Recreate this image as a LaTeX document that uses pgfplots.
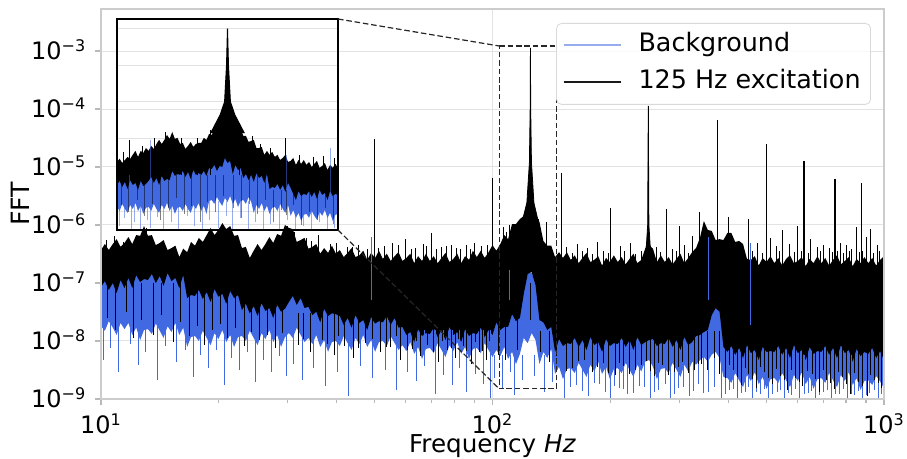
\documentclass[border=0pt]{standalone}
\usepackage{fontspec}
\setmainfont{DejaVu Sans}
\usepackage{pgfplots}
\usepackage{pgfplotstable}
\pgfplotsset{compat=1.18}
\usepgfplotslibrary{fillbetween}
\definecolor{royal}{RGB}{65,105,225}

% main spectrum: f, black top/bottom, blue top/bottom
\pgfplotstableread{
f kh kl bh bl
10.00 3.7e-7 8.5e-8 1.95e-7 1.8e-8
10.23 4.7e-7 1.08e-7 2.2e-7 1.5e-8
10.47 3.7e-7 7.6e-8 1.8e-7 2.2e-8
10.72 4.7e-7 1.0e-7 2.1e-7 1.7e-8
10.96 5.7e-7 6.7e-8 1.67e-7 1.27e-8
11.22 4.2e-7 1.13e-7 2.3e-7 2.05e-8
11.48 4.9e-7 8.2e-8 1.87e-7 1.6e-8
11.75 6.2e-7 1.22e-7 1.73e-7 2.05e-8
12.02 4.7e-7 8.2e-8 1.95e-7 1.27e-8
12.30 6.7e-7 1.37e-7 2.2e-7 1.7e-8
12.59 6.5e-7 1.04e-7 1.8e-7 1.04e-8
12.88 9.6e-7 1.17e-7 2.1e-7 1.55e-8
13.18 6.5e-7 1.13e-7 1.67e-7 1.6e-8
13.49 6.7e-7 1.43e-7 2.3e-7 1.32e-8
13.80 4.5e-7 1.0e-7 1.87e-7 2.0e-8
14.13 4.9e-7 1.32e-7 1.73e-7 1.5e-8
14.45 5.5e-7 8.9e-8 1.95e-7 1.13e-8
14.79 3.7e-7 1.49e-7 2.2e-7 1.8e-8
15.14 4.0e-7 1.08e-7 1.8e-7 1.43e-8
15.49 4.4e-7 1.22e-7 2.1e-7 2.05e-8
15.85 2.8e-7 8.2e-8 1.67e-7 1.27e-8
16.22 3.9e-7 1.37e-7 2.3e-7 1.7e-8
16.60 3.4e-7 5.5e-8 1.87e-7 7.9e-9
16.98 5.1e-7 6.2e-8 1.73e-7 1.17e-8
17.38 4.4e-7 6.0e-8 1.95e-7 1.22e-8
17.78 6.0e-7 7.6e-8 2.2e-7 1.0e-8
18.20 5.1e-7 5.3e-8 1.8e-7 1.5e-8
18.62 6.7e-7 7.0e-8 2.1e-7 1.13e-8
19.05 8.9e-7 4.7e-8 1.67e-7 8.5e-9
19.50 6.7e-7 7.9e-8 2.3e-7 1.37e-8
19.95 8.2e-7 5.8e-8 1.87e-7 1.08e-8
20.42 1.08e-6 6.5e-8 1.73e-7 1.55e-8
20.89 8.5e-7 4.4e-8 1.95e-7 9.6e-9
21.38 9.6e-7 7.3e-8 2.2e-7 1.27e-8
21.88 6.5e-7 5.5e-8 1.8e-7 7.9e-9
22.39 6.7e-7 6.2e-8 2.1e-7 1.17e-8
22.91 4.0e-7 3.4e-8 1.67e-7 1.22e-8
23.44 4.2e-7 4.4e-8 2.3e-7 1.0e-8
23.99 2.7e-7 3.0e-8 1.87e-7 1.5e-8
24.55 3.6e-7 4.0e-8 1.73e-7 1.13e-8
25.12 4.7e-7 2.7e-8 1.95e-7 8.5e-9
25.70 3.7e-7 4.5e-8 2.2e-7 1.37e-8
26.30 4.7e-7 3.3e-8 1.8e-7 1.08e-8
26.92 6.2e-7 3.7e-8 2.1e-7 1.55e-8
27.54 4.9e-7 2.5e-8 1.67e-7 9.6e-9
28.18 7.0e-7 4.2e-8 2.3e-7 1.27e-8
28.84 6.5e-7 3.2e-8 1.87e-7 7.9e-9
29.51 1.0e-6 3.6e-8 1.73e-7 1.17e-8
30.20 8.9e-7 4.7e-8 1.04e-7 1.37e-8
30.90 8.5e-7 6.0e-8 1.17e-7 1.13e-8
31.62 5.1e-7 4.2e-8 9.6e-8 1.7e-8
32.36 5.5e-7 5.5e-8 5.5e-8 1.27e-8
33.11 6.0e-7 3.7e-8 4.4e-8 9.6e-9
33.88 3.9e-7 3.9e-8 6.0e-8 1.13e-8
34.67 4.2e-7 2.8e-8 4.9e-8 8.9e-9
35.48 4.7e-7 3.2e-8 4.5e-8 1.27e-8
36.31 3.2e-7 2.1e-8 5.1e-8 7.9e-9
37.15 4.0e-7 3.6e-8 5.5e-8 1.04e-8
38.02 3.3e-7 2.7e-8 4.7e-8 6.5e-9
38.90 4.4e-7 3.0e-8 5.8e-8 9.6e-9
39.81 3.2e-7 2.9e-8 5.1e-8 1.0e-8
40.74 3.7e-7 2.7e-8 5.8e-8 8.2e-9
41.69 2.8e-7 1.9e-8 4.7e-8 1.22e-8
42.66 3.3e-7 2.5e-8 5.5e-8 9.2e-9
43.65 4.0e-7 1.7e-8 4.4e-8 7.0e-9
44.67 2.8e-7 2.8e-8 6.0e-8 1.13e-8
45.71 3.0e-7 2.05e-8 4.9e-8 8.9e-9
46.77 3.6e-7 2.3e-8 4.5e-8 1.27e-8
47.86 2.5e-7 1.55e-8 5.1e-8 7.9e-9
48.98 3.3e-7 2.6e-8 5.5e-8 1.04e-8
50.12 2.7e-7 2.0e-8 4.7e-8 6.5e-9
51.29 3.6e-7 2.2e-8 5.8e-8 9.6e-9
52.48 2.6e-7 2.1e-8 5.1e-8 1.0e-8
53.70 3.2e-7 2.7e-8 5.8e-8 8.2e-9
54.95 2.4e-7 1.9e-8 4.7e-8 1.22e-8
56.23 2.9e-7 2.5e-8 5.5e-8 9.2e-9
57.54 3.4e-7 1.7e-8 4.4e-8 7.0e-9
58.88 2.4e-7 1.75e-8 6.0e-8 8.5e-9
60.26 2.7e-7 1.27e-8 4.9e-8 6.7e-9
61.66 3.2e-7 1.43e-8 4.5e-8 9.6e-9
63.10 2.2e-7 9.6e-9 5.1e-8 6.0e-9
64.57 2.9e-7 1.6e-8 5.5e-8 7.9e-9
66.07 2.4e-7 1.22e-8 4.7e-8 4.9e-9
67.61 3.2e-7 1.37e-8 5.8e-8 7.3e-9
69.18 2.4e-7 1.32e-8 5.1e-8 7.6e-9
70.79 2.9e-7 1.7e-8 5.8e-8 6.2e-9
72.44 2.2e-7 1.17e-8 4.7e-8 9.2e-9
74.13 2.7e-7 1.55e-8 5.5e-8 7.0e-9
75.86 3.3e-7 1.04e-8 4.4e-8 5.3e-9
77.62 2.3e-7 1.75e-8 6.0e-8 8.5e-9
79.43 2.6e-7 1.27e-8 4.9e-8 6.7e-9
81.28 3.2e-7 1.43e-8 4.5e-8 9.6e-9
83.18 2.2e-7 9.6e-9 5.1e-8 6.0e-9
85.11 2.9e-7 1.6e-8 5.5e-8 7.9e-9
87.10 2.5e-7 1.22e-8 4.7e-8 4.9e-9
89.13 3.6e-7 1.37e-8 5.8e-8 7.3e-9
91.20 2.8e-7 1.32e-8 5.1e-8 7.6e-9
93.33 3.6e-7 1.7e-8 5.8e-8 6.2e-9
95.50 2.7e-7 1.17e-8 4.7e-8 9.2e-9
97.72 3.4e-7 1.55e-8 5.5e-8 7.0e-9
100.0 4.5e-7 1.27e-8 5.1e-8 5.3e-9
102.3 3.6e-7 2.1e-8 6.2e-8 7.0e-9
104.7 4.7e-7 1.55e-8 7.0e-8 5.5e-9
107.2 6.7e-7 1.75e-8 5.8e-8 7.9e-9
109.6 5.7e-7 1.75e-8 6.2e-8 4.9e-9
112.2 1.04e-6 2.9e-8 7.3e-8 6.5e-9
114.8 1.04e-6 2.2e-8 6.0e-8 4.0e-9
117.5 1.27e-6 2.5e-8 5.5e-8 6.0e-9
120.2 1.43e-6 6.5e-8 9.2e-8 1.13e-8
123.0 2.7e-6 1.43e-7 1.49e-7 9.2e-9
125.9 2.0e-6 1.55e-7 1.49e-7 1.37e-8
128.8 1.49e-6 9.2e-8 1.13e-7 1.04e-8
131.8 1.13e-6 2.3e-8 4.2e-8 4.0e-9
134.9 5.3e-7 2.1e-8 4.2e-8 6.5e-9
138.0 4.4e-7 1.55e-8 4.2e-8 5.1e-9
141.3 4.4e-7 1.75e-8 4.2e-8 7.3e-9
144.5 2.8e-7 6.5e-9 1.9e-8 2.7e-9
147.9 3.4e-7 1.08e-8 1.9e-8 3.6e-9
151.4 2.7e-7 8.2e-9 1.9e-8 2.2e-9
154.9 3.4e-7 9.2e-9 1.9e-8 3.3e-9
158.5 2.5e-7 8.9e-9 1.9e-8 3.4e-9
162.2 3.0e-7 1.13e-8 1.9e-8 2.8e-9
166.0 2.2e-7 7.9e-9 1.9e-8 4.2e-9
169.8 2.7e-7 1.04e-8 1.9e-8 3.2e-9
173.8 3.3e-7 7.0e-9 1.9e-8 2.4e-9
177.8 2.3e-7 1.17e-8 1.9e-8 3.9e-9
182.0 2.5e-7 8.5e-9 1.9e-8 3.0e-9
186.2 2.9e-7 9.6e-9 1.9e-8 4.4e-9
190.5 2.0e-7 6.5e-9 1.9e-8 2.7e-9
195.0 2.7e-7 1.08e-8 1.9e-8 3.6e-9
199.5 2.3e-7 8.2e-9 1.9e-8 2.2e-9
204.2 3.0e-7 9.2e-9 1.9e-8 3.3e-9
208.9 2.3e-7 8.9e-9 1.9e-8 3.4e-9
213.8 2.8e-7 1.13e-8 1.9e-8 2.8e-9
218.8 2.1e-7 7.9e-9 1.9e-8 4.2e-9
223.9 2.6e-7 1.04e-8 1.9e-8 3.2e-9
229.1 3.2e-7 7.0e-9 1.9e-8 2.4e-9
234.4 2.2e-7 1.17e-8 1.9e-8 3.9e-9
239.9 2.5e-7 8.5e-9 1.9e-8 3.0e-9
245.5 3.9e-7 9.6e-9 3.2e-8 4.4e-9
251.2 4.5e-7 1.04e-8 3.4e-8 4.7e-9
257.0 3.9e-7 1.08e-8 2.5e-8 3.6e-9
263.0 2.3e-7 8.2e-9 1.9e-8 2.2e-9
269.2 3.0e-7 9.2e-9 1.9e-8 3.3e-9
275.4 2.3e-7 8.9e-9 1.9e-8 3.4e-9
281.8 2.8e-7 1.13e-8 1.9e-8 2.8e-9
288.4 2.1e-7 7.9e-9 1.9e-8 4.2e-9
295.1 2.6e-7 1.04e-8 1.9e-8 3.2e-9
302.0 3.2e-7 7.0e-9 1.9e-8 2.4e-9
309.0 2.2e-7 1.17e-8 1.9e-8 3.9e-9
316.2 2.7e-7 8.5e-9 1.9e-8 3.0e-9
323.6 3.4e-7 9.6e-9 4.2e-8 4.4e-9
331.1 4.0e-7 1.22e-8 4.2e-8 3.9e-9
338.8 6.0e-7 1.27e-8 4.5e-8 4.7e-9
346.7 1.17e-6 1.43e-8 5.1e-8 5.3e-9
354.8 8.2e-7 1.55e-8 5.1e-8 4.4e-9
363.1 7.9e-7 2.8e-8 5.5e-8 5.8e-9
371.5 5.5e-7 3.7e-8 5.1e-8 6.5e-9
380.2 5.7e-7 3.2e-8 4.7e-8 5.1e-9
389.0 5.5e-7 7.9e-9 1.9e-8 2.4e-9
398.1 7.3e-7 6.5e-9 1.9e-8 2.3e-9
407.4 7.3e-7 8.2e-9 1.9e-8 1.9e-9
416.9 5.1e-7 5.8e-9 1.9e-8 2.8e-9
426.6 5.3e-7 7.6e-9 1.9e-8 2.1e-9
436.5 4.7e-7 5.1e-9 1.9e-8 1.6e-9
446.7 2.6e-7 8.5e-9 1.9e-8 2.6e-9
457.1 2.5e-7 6.2e-9 1.9e-8 2.05e-9
467.7 2.9e-7 7.0e-9 1.9e-8 2.9e-9
478.6 2.0e-7 4.7e-9 1.9e-8 1.8e-9
489.8 2.7e-7 7.9e-9 1.9e-8 2.4e-9
501.2 2.3e-7 6.5e-9 1.9e-8 1.5e-9
512.9 2.9e-7 6.7e-9 1.9e-8 2.2e-9
524.8 2.2e-7 6.5e-9 1.9e-8 2.3e-9
537.0 2.7e-7 8.2e-9 1.9e-8 1.9e-9
549.5 2.0e-7 5.8e-9 1.9e-8 2.8e-9
562.3 2.6e-7 7.6e-9 1.9e-8 2.1e-9
575.4 3.0e-7 5.1e-9 1.9e-8 1.6e-9
588.8 2.2e-7 8.5e-9 1.9e-8 2.6e-9
602.6 2.4e-7 6.2e-9 1.9e-8 2.05e-9
616.6 2.8e-7 7.0e-9 1.9e-8 2.9e-9
631.0 1.95e-7 4.7e-9 1.9e-8 1.8e-9
645.7 2.6e-7 7.9e-9 1.9e-8 2.4e-9
660.7 2.2e-7 6.0e-9 1.9e-8 1.5e-9
676.1 2.9e-7 6.7e-9 1.9e-8 2.2e-9
691.8 2.2e-7 6.5e-9 1.9e-8 2.3e-9
707.9 2.7e-7 8.2e-9 1.9e-8 1.9e-9
724.4 2.0e-7 5.8e-9 1.9e-8 2.8e-9
741.3 2.5e-7 7.6e-9 1.9e-8 2.1e-9
758.6 3.0e-7 5.1e-9 1.9e-8 1.6e-9
776.2 2.1e-7 8.5e-9 1.9e-8 2.6e-9
794.3 2.4e-7 6.2e-9 1.9e-8 2.05e-9
812.8 2.8e-7 7.0e-9 1.9e-8 2.9e-9
831.8 1.95e-7 4.4e-9 1.9e-8 1.75e-9
851.1 2.6e-7 7.3e-9 1.9e-8 2.3e-9
871.0 2.2e-7 5.5e-9 1.9e-8 1.43e-9
891.3 2.8e-7 6.5e-9 1.9e-8 2.05e-9
912.0 2.2e-7 6.0e-9 1.9e-8 2.1e-9
933.3 2.7e-7 7.6e-9 1.9e-8 1.75e-9
955.0 2.0e-7 5.1e-9 1.9e-8 2.5e-9
977.2 2.5e-7 6.7e-9 1.9e-8 2.0e-9
1000 2.9e-7 4.7e-9 1.9e-8 1.55e-9
}\mainfft

% zoomed window 104-146 Hz
\pgfplotstableread{
f kh kl bh bl
104.0 2.3e-7 5.4e-8 9.6e-8 1.37e-8
104.5 2.8e-7 7.0e-8 9.6e-8 1.06e-8
105.0 2.15e-7 4.8e-8 9.6e-8 1.65e-8
105.5 2.6e-7 6.6e-8 9.6e-8 1.2e-8
106.0 3.15e-7 4.2e-8 9.6e-8 9.4e-9
106.5 2.8e-7 7.4e-8 9.6e-8 1.55e-8
107.0 3.6e-7 5.4e-8 9.6e-8 1.2e-8
107.5 4.6e-7 6.2e-8 9.6e-8 1.75e-8
108.0 3.15e-7 4.0e-8 9.6e-8 1.06e-8
108.5 4.6e-7 7.0e-8 9.6e-8 1.46e-8
109.0 4.05e-7 5.1e-8 9.6e-8 8.8e-9
109.5 5.5e-7 5.8e-8 9.6e-8 1.29e-8
110.0 4.6e-7 7.0e-8 1.23e-7 1.37e-8
110.5 6.3e-7 9.0e-8 1.23e-7 1.06e-8
111.0 5.2e-7 6.2e-8 1.23e-7 1.65e-8
111.5 7.1e-7 8.4e-8 1.23e-7 1.2e-8
112.0 9.2e-7 5.4e-8 1.23e-7 9.4e-9
112.5 7.1e-7 9.6e-8 1.23e-7 1.55e-8
113.0 9.2e-7 7.0e-8 1.23e-7 1.2e-8
113.5 1.25e-6 7.9e-8 1.23e-7 1.75e-8
114.0 9.8e-7 7.4e-8 1.79e-7 1.06e-8
114.5 1.51e-6 1.31e-7 1.79e-7 1.46e-8
115.0 9.8e-7 9.6e-8 1.79e-7 8.8e-9
115.5 1.04e-6 1.08e-7 1.79e-7 1.29e-8
116.0 7.1e-7 1.02e-7 1.79e-7 1.37e-8
116.5 7.6e-7 1.31e-7 1.79e-7 1.06e-8
117.0 5.2e-7 9.0e-8 1.79e-7 1.65e-8
117.5 6.3e-7 1.23e-7 1.79e-7 1.2e-8
118.0 8.1e-7 7.9e-8 1.79e-7 9.4e-9
118.5 5.9e-7 1.39e-7 1.79e-7 1.55e-8
119.0 7.1e-7 1.02e-7 1.79e-7 1.2e-8
119.5 7.6e-7 1.15e-7 1.79e-7 1.75e-8
120.0 7.6e-7 1.02e-7 1.79e-7 1.06e-8
120.5 1.04e-6 1.31e-7 1.79e-7 1.46e-8
121.0 9.2e-7 9.6e-8 1.79e-7 8.8e-9
121.5 1.33e-6 1.58e-7 1.79e-7 1.98e-8
122.0 1.25e-6 1.48e-7 2.3e-7 2.1e-8
122.5 1.72e-6 1.91e-7 2.6e-7 1.65e-8
123.0 1.61e-6 1.31e-7 2.6e-7 2.55e-8
123.5 2.5e-6 1.79e-7 3.0e-7 1.87e-8
124.0 4.4e-6 1.68e-7 3.4e-7 1.46e-8
124.5 5.3e-6 2.96e-7 3.6e-7 2.4e-8
125.0 6.0e-6 2.16e-7 3.6e-7 1.87e-8
125.5 4.7e-6 2.45e-7 3.4e-7 2.7e-8
126.0 2.5e-6 1.08e-7 3.0e-7 1.65e-8
126.5 2.66e-6 1.91e-7 2.6e-7 2.25e-8
127.0 1.83e-6 1.39e-7 2.6e-7 1.37e-8
127.5 1.94e-6 1.58e-7 2.3e-7 1.98e-8
128.0 1.18e-6 8.4e-8 1.79e-7 2.1e-8
128.5 1.18e-6 1.08e-7 1.79e-7 1.65e-8
129.0 8.1e-7 7.4e-8 1.79e-7 2.55e-8
129.5 8.6e-7 1.02e-7 1.79e-7 1.87e-8
130.0 9.2e-7 6.6e-8 1.79e-7 9.4e-9
130.5 5.5e-7 1.15e-7 1.39e-7 1.55e-8
131.0 5.5e-7 8.4e-8 1.39e-7 1.2e-8
131.5 5.9e-7 9.6e-8 1.39e-7 1.75e-8
132.0 3.6e-7 6.2e-8 1.39e-7 1.06e-8
132.5 4.6e-7 1.08e-7 1.39e-7 1.46e-8
133.0 3.6e-7 4.2e-8 8.4e-8 8.8e-9
133.5 4.3e-7 4.8e-8 8.4e-8 1.29e-8
134.0 3.15e-7 4.5e-8 8.4e-8 1.37e-8
134.5 3.6e-7 5.8e-8 8.4e-8 1.06e-8
135.0 2.6e-7 4.0e-8 8.4e-8 1.65e-8
135.5 2.96e-7 5.4e-8 8.4e-8 1.2e-8
136.0 3.6e-7 3.5e-8 8.4e-8 9.4e-9
136.5 2.3e-7 6.2e-8 8.4e-8 1.55e-8
137.0 2.45e-7 4.5e-8 8.4e-8 7.8e-9
137.5 2.96e-7 3.1e-8 5.1e-8 1.13e-8
138.0 1.91e-7 2.1e-8 5.1e-8 6.9e-9
138.5 2.6e-7 3.7e-8 5.1e-8 9.4e-9
139.0 2.03e-7 2.7e-8 5.1e-8 5.7e-9
139.5 2.6e-7 3.1e-8 5.1e-8 8.3e-9
140.0 1.91e-7 2.9e-8 5.1e-8 8.8e-9
140.5 2.3e-7 3.7e-8 5.1e-8 6.9e-9
141.0 1.68e-7 2.55e-8 5.1e-8 1.06e-8
141.5 2.03e-7 3.5e-8 5.1e-8 7.8e-9
142.0 2.45e-7 2.25e-8 5.1e-8 6.1e-9
142.5 1.58e-7 4.0e-8 5.1e-8 1.0e-8
143.0 1.79e-7 2.9e-8 5.1e-8 7.8e-9
143.5 2.16e-7 3.3e-8 5.1e-8 1.13e-8
144.0 1.39e-7 2.1e-8 5.1e-8 6.9e-9
144.5 1.91e-7 3.7e-8 5.1e-8 9.4e-9
145.0 1.58e-7 2.7e-8 5.1e-8 5.7e-9
145.5 2.03e-7 3.1e-8 5.1e-8 8.3e-9
146.0 1.58e-7 2.9e-8 5.1e-8 8.8e-9
}\zoomfft

\begin{document}
\fontsize{12.6}{15}\selectfont
\begin{tikzpicture}

\begin{axis}[
    name=main, at={(0,0)}, anchor=south west,
    scale only axis, width=391.5pt, height=195pt,
    xmode=log, ymode=log,
    xmin=10, xmax=1000, ymin=1e-9, ymax=5.3e-3,
    xtick={10,100,1000},
    xticklabels={10\textsuperscript{1},10\textsuperscript{2},10\textsuperscript{3}},
    ytick={1e-9,1e-8,1e-7,1e-6,1e-5,1e-4,1e-3},
    yticklabels={10\textsuperscript{−9},10\textsuperscript{−8},10\textsuperscript{−7},10\textsuperscript{−6},10\textsuperscript{−5},10\textsuperscript{−4},10\textsuperscript{−3}},
    yminorticks=false,
    tick pos=left, tick align=outside,
    major tick length=3pt, minor tick length=2pt,
    tick style={gray!55, line width=0.6pt},
    tick label style={font=\fontsize{12}{14}\selectfont},
    grid=major, major grid style={gray!22, line width=0.5pt},
    axis line style={gray!40, line width=0.9pt},
    xticklabel style={anchor=north, inner ysep=0pt, yshift=-4pt},
    yticklabel style={anchor=base east, yshift=-4.4pt},
    xlabel={Frequency \textit{Hz}}, ylabel={FFT},
    xlabel style={at={(axis description cs:0.5,-0.1379)}, anchor=base, inner sep=0pt,
        font=\fontsize{12.3}{14}\selectfont},
    ylabel style={at={(axis description cs:-0.1035,0.5)}, anchor=center, inner sep=0pt},
    unbounded coords=jump,
    legend cell align=left,
    legend image code/.code={\draw[#1] (0pt,0pt) -- (25.5pt,0pt); \path (0pt,0pt) -- (28.5pt,0pt);},
    legend style={at={(0.9834,0.9641)}, anchor=north east,
        draw=gray!30, rounded corners=2.5pt, fill=white, fill opacity=0.8,
        draw opacity=1, text opacity=1, inner xsep=3pt, inner ysep=2.75pt,
        /tikz/row sep=2pt, /tikz/column sep=6.5pt,
        nodes={inner sep=2pt, text height=9.5pt, text depth=3pt},
        font=\fontsize{12.7}{15}\selectfont},
]
% background (blue)
\addplot[draw=none, name path=bT, forget plot] table[x=f,y=bh]{\mainfft};
\addplot[draw=none, name path=bB, forget plot] table[x=f,y=bl]{\mainfft};
\addplot[fill=royal, draw=none, forget plot] fill between[of=bT and bB];
\addplot[royal, line width=0.5pt, forget plot] coordinates {
(10.15,2.5e-8)(10.15,4.7e-9)(10.15,nan)(10.6,2.5e-8)(10.6,7.6e-9)(10.6,nan)
(11.1,2.5e-8)(11.1,2.9e-9)(11.1,nan)(11.9,2.5e-8)(11.9,8.9e-9)(11.9,nan)
(12.45,2.5e-8)(12.45,3.9e-9)(12.45,nan)(13.0,2.5e-8)(13.0,6.5e-9)(13.0,nan)
(13.95,2.5e-8)(13.95,2.1e-9)(13.95,nan)(14.6,2.5e-8)(14.6,8.2e-9)(14.6,nan)
(15.6,2.5e-8)(15.6,4.4e-9)(15.6,nan)(16.4,2.5e-8)(16.4,7.0e-9)(16.4,nan)
(17.2,2.5e-8)(17.2,2.4e-9)(17.2,nan)(18.0,2.5e-8)(18.0,5.8e-9)(18.0,nan)
(18.8,2.5e-8)(18.8,3.4e-9)(18.8,nan)(19.7,2.5e-8)(19.7,7.0e-9)(19.7,nan)
(20.7,2.5e-8)(20.7,1.75e-9)(20.7,nan)(21.6,2.5e-8)(21.6,5.1e-9)(21.6,nan)
(22.6,2.5e-8)(22.6,3.2e-9)(22.6,nan)(23.7,2.5e-8)(23.7,6.5e-9)(23.7,nan)
(24.8,2.5e-8)(24.8,2.0e-9)(24.8,nan)(26.0,2.5e-8)(26.0,4.7e-9)(26.0,nan)
(27.2,2.5e-8)(27.2,2.9e-9)(27.2,nan)(28.5,2.5e-8)(28.5,5.5e-9)(28.5,nan)
(29.8,2.5e-8)(29.8,2.5e-9)(29.8,nan)
(31.0,1.55e-8)(31.0,4.0e-9)(31.0,nan)(32.8,1.55e-8)(32.8,2.1e-9)(32.8,nan)
(35.0,1.55e-8)(35.0,3.4e-9)(35.0,nan)(37.5,1.55e-8)(37.5,1.7e-9)(37.5,nan)
(40.3,1.55e-8)(40.3,2.9e-9)(40.3,nan)(43.0,1.55e-8)(43.0,1.13e-9)(43.0,nan)
(46.0,1.55e-8)(46.0,3.7e-9)(46.0,nan)(49.5,1.55e-8)(49.5,2.3e-9)(49.5,nan)
(53.3,1.55e-8)(53.3,3.2e-9)(53.3,nan)(57.0,1.55e-8)(57.0,1.43e-9)(57.0,nan)
(60.8,1.55e-8)(60.8,2.9e-9)(60.8,nan)(64.0,1.55e-8)(64.0,2.05e-9)(64.0,nan)
(67.0,1.55e-8)(67.0,3.7e-9)(67.0,nan)(71.5,1.55e-8)(71.5,1.22e-9)(71.5,nan)
(75.0,1.55e-8)(75.0,2.6e-9)(75.0,nan)(79.0,1.55e-8)(79.0,1.75e-9)(79.0,nan)
(82.5,1.55e-8)(82.5,3.4e-9)(82.5,nan)(86.0,1.55e-8)(86.0,1.32e-9)(86.0,nan)
(90.5,1.55e-8)(90.5,2.7e-9)(90.5,nan)(94.8,1.55e-8)(94.8,1.8e-9)(94.8,nan)
(98.6,1.55e-8)(98.6,1.04e-9)(98.6,nan)
(101.2,5.8e-9)(101.2,2.3e-9)(101.2,nan)(105.8,5.8e-9)(105.8,1.55e-9)(105.8,nan)
(111.0,5.8e-9)(111.0,2.9e-9)(111.0,nan)(114.0,5.8e-9)(114.0,1.17e-9)(114.0,nan)
(119.0,5.8e-9)(119.0,2.1e-9)(119.0,nan)(128.0,5.8e-9)(128.0,2.5e-9)(128.0,nan)
(135.5,5.8e-9)(135.5,1.32e-9)(135.5,nan)(142.5,5.8e-9)(142.5,2.0e-9)(142.5,nan)
(153.0,5.8e-9)(153.0,1.04e-9)(153.0,nan)(158.0,5.8e-9)(158.0,1.6e-9)(158.0,nan)
(163.5,5.8e-9)(163.5,1.75e-9)(163.5,nan)(170.0,5.8e-9)(170.0,1.4e-9)(170.0,nan)
(176.0,5.8e-9)(176.0,1.13e-9)(176.0,nan)(182.0,5.8e-9)(182.0,1.9e-9)(182.0,nan)
(188.0,5.8e-9)(188.0,1.8e-9)(188.0,nan)(194.0,5.8e-9)(194.0,1.3e-9)(194.0,nan)
(200.0,5.8e-9)(200.0,9.6e-10)(200.0,nan)(205.0,5.8e-9)(205.0,1.7e-9)(205.0,nan)
(211.0,5.8e-9)(211.0,1.55e-9)(211.0,nan)(216.0,5.8e-9)(216.0,1.5e-9)(216.0,nan)
(221.0,5.8e-9)(221.0,1.22e-9)(221.0,nan)(229.0,5.8e-9)(229.0,1.25e-9)(229.0,nan)
(237.0,5.8e-9)(237.0,1.7e-9)(237.0,nan)(245.0,5.8e-9)(245.0,1.6e-9)(245.0,nan)
(254.0,5.8e-9)(254.0,1.04e-9)(254.0,nan)(260.0,5.8e-9)(260.0,1.3e-9)(260.0,nan)
(266.0,5.8e-9)(266.0,1.43e-9)(266.0,nan)(276.0,5.8e-9)(276.0,1.8e-9)(276.0,nan)
(285.0,5.8e-9)(285.0,9.6e-10)(285.0,nan)(292.0,5.8e-9)(292.0,1.2e-9)(292.0,nan)
(298.0,5.8e-9)(298.0,1.55e-9)(298.0,nan)(308.0,5.8e-9)(308.0,1.6e-9)(308.0,nan)
(318.0,5.8e-9)(318.0,1.13e-9)(318.0,nan)(326.0,5.8e-9)(326.0,1.4e-9)(326.0,nan)
(335.0,5.8e-9)(335.0,1.8e-9)(335.0,nan)(346.0,5.8e-9)(346.0,1.25e-9)(346.0,nan)
(356.0,5.8e-9)(356.0,1.32e-9)(356.0,nan)(368.0,5.8e-9)(368.0,1.6e-9)(368.0,nan)
(384.0,5.8e-9)(384.0,1.04e-9)(384.0,nan)(394.0,5.8e-9)(394.0,1.2e-9)(394.0,nan)
(404.0,5.8e-9)(404.0,1.43e-9)(404.0,nan)(413.0,5.8e-9)(413.0,1.5e-9)(413.0,nan)
(422.0,5.8e-9)(422.0,9.6e-10)(422.0,nan)(432.0,5.8e-9)(432.0,1.25e-9)(432.0,nan)
(442.0,5.8e-9)(442.0,1.32e-9)(442.0,nan)(452.0,5.8e-9)(452.0,1.6e-9)(452.0,nan)
(462.0,5.8e-9)(462.0,1.04e-9)(462.0,nan)(473.0,5.8e-9)(473.0,1.3e-9)(473.0,nan)
(484.0,5.8e-9)(484.0,1.22e-9)(484.0,nan)(495.0,5.8e-9)(495.0,1.5e-9)(495.0,nan)
(506.0,5.8e-9)(506.0,9.6e-10)(506.0,nan)(520.0,5.8e-9)(520.0,1.2e-9)(520.0,nan)
(534.0,5.8e-9)(534.0,1.32e-9)(534.0,nan)(545.0,5.8e-9)(545.0,1.45e-9)(545.0,nan)
(556.0,5.8e-9)(556.0,1.04e-9)(556.0,nan)(569.0,5.8e-9)(569.0,1.25e-9)(569.0,nan)
(582.0,5.8e-9)(582.0,1.17e-9)(582.0,nan)(596.0,5.8e-9)(596.0,1.5e-9)(596.0,nan)
(610.0,5.8e-9)(610.0,9.6e-10)(610.0,nan)(625.0,5.8e-9)(625.0,1.2e-9)(625.0,nan)
(640.0,5.8e-9)(640.0,1.27e-9)(640.0,nan)(654.0,5.8e-9)(654.0,1.4e-9)(654.0,nan)
(668.0,5.8e-9)(668.0,9.6e-10)(668.0,nan)(684.0,5.8e-9)(684.0,1.15e-9)(684.0,nan)
(700.0,5.8e-9)(700.0,1.32e-9)(700.0,nan)(717.0,5.8e-9)(717.0,1.45e-9)(717.0,nan)
(735.0,5.8e-9)(735.0,1.0e-9)(735.0,nan)(752.0,5.8e-9)(752.0,1.2e-9)(752.0,nan)
(770.0,5.8e-9)(770.0,1.22e-9)(770.0,nan)(789.0,5.8e-9)(789.0,1.5e-9)(789.0,nan)
(808.0,5.8e-9)(808.0,9.6e-10)(808.0,nan)(824.0,5.8e-9)(824.0,1.2e-9)(824.0,nan)
(840.0,5.8e-9)(840.0,1.17e-9)(840.0,nan)(860.0,5.8e-9)(860.0,1.4e-9)(860.0,nan)
(880.0,5.8e-9)(880.0,1.04e-9)(880.0,nan)(900.0,5.8e-9)(900.0,1.15e-9)(900.0,nan)
(920.0,5.8e-9)(920.0,1.27e-9)(920.0,nan)(944.0,5.8e-9)(944.0,1.45e-9)(944.0,nan)
(968.0,5.8e-9)(968.0,9.6e-10)(968.0,nan)(985.0,5.8e-9)(985.0,1.2e-9)(985.0,nan)
(49.0,5e-8)(49.0,6.2e-7)(49.0,nan)(110.2,5e-8)(110.2,1.0e-6)(110.2,nan)
(357.0,5e-8)(357.0,6.2e-7)(357.0,nan)(455.0,1.9e-8)(455.0,4.9e-7)(455.0,nan)
};
% 125 Hz excitation (black)
\addplot[draw=none, name path=kT, forget plot] table[x=f,y=kh]{\mainfft};
\addplot[draw=none, name path=kB, forget plot] table[x=f,y=kl]{\mainfft};
\addplot[fill=black, draw=none, forget plot] fill between[of=kT and kB];
\addplot[black, line width=0.5pt, forget plot] coordinates {
(10.3,1.7e-7)(10.3,5.5e-7)(10.3,nan)(10.8,1.7e-7)(10.8,6.5e-7)(10.8,nan)
(11.4,1.7e-7)(11.4,5.1e-7)(11.4,nan)(12.9,1.7e-7)(12.9,8.2e-7)(12.9,nan)
(13.1,1.7e-7)(13.1,8.9e-7)(13.1,nan)(30.0,1.7e-7)(30.0,9.6e-7)(30.0,nan)
(31.2,1.7e-7)(31.2,7.6e-7)(31.2,nan)(33.5,1.7e-7)(33.5,6.0e-7)(33.5,nan)
(34.5,1.7e-7)(34.5,5.2e-7)(34.5,nan)(36.0,1.7e-7)(36.0,6.7e-7)(36.0,nan)
(38.5,1.7e-7)(38.5,4.7e-7)(38.5,nan)(40.0,1.7e-7)(40.0,4.9e-7)(40.0,nan)
(42.5,1.7e-7)(42.5,4.2e-7)(42.5,nan)(44.0,1.7e-7)(44.0,4.2e-7)(44.0,nan)
(45.5,1.7e-7)(45.5,4.5e-7)(45.5,nan)(48.0,1.7e-7)(48.0,3.9e-7)(48.0,nan)
(51.0,1.7e-7)(51.0,4.0e-7)(51.0,nan)(53.0,1.7e-7)(53.0,4.4e-7)(53.0,nan)
(55.7,1.7e-7)(55.7,4.9e-7)(55.7,nan)(57.5,1.7e-7)(57.5,4.6e-7)(57.5,nan)
(60.0,1.7e-7)(60.0,5.7e-7)(60.0,nan)(62.0,1.7e-7)(62.0,3.8e-7)(62.0,nan)
(63.5,1.7e-7)(63.5,4.0e-7)(63.5,nan)(66.5,1.7e-7)(66.5,4.7e-7)(66.5,nan)
(68.0,1.7e-7)(68.0,4.4e-7)(68.0,nan)(70.0,1.7e-7)(70.0,7.3e-7)(70.0,nan)
(72.0,1.7e-7)(72.0,3.9e-7)(72.0,nan)(74.0,1.7e-7)(74.0,4.2e-7)(74.0,nan)
(76.5,1.7e-7)(76.5,4.3e-7)(76.5,nan)(78.5,1.7e-7)(78.5,4.5e-7)(78.5,nan)
(81.0,1.7e-7)(81.0,4.0e-7)(81.0,nan)(83.0,1.7e-7)(83.0,3.9e-7)(83.0,nan)
(86.0,1.7e-7)(86.0,4.5e-7)(86.0,nan)(88.0,1.7e-7)(88.0,3.8e-7)(88.0,nan)
(90.0,1.7e-7)(90.0,4.9e-7)(90.0,nan)(94.0,1.7e-7)(94.0,4.4e-7)(94.0,nan)
(97.0,1.7e-7)(97.0,4.6e-7)(97.0,nan)(106.5,1.7e-7)(106.5,9.2e-7)(106.5,nan)
(108.5,1.7e-7)(108.5,7.6e-7)(108.5,nan)(110.5,1.7e-7)(110.5,1.0e-6)(110.5,nan)
(131.0,1.7e-7)(131.0,1.27e-6)(131.0,nan)(137.0,1.7e-7)(137.0,1.13e-6)(137.0,nan)
(155.0,1.7e-7)(155.0,4.2e-7)(155.0,nan)(160.0,1.7e-7)(160.0,3.3e-7)(160.0,nan)
(165.0,1.7e-7)(165.0,4.7e-7)(165.0,nan)(170.0,1.7e-7)(170.0,3.5e-7)(170.0,nan)
(175.0,1.7e-7)(175.0,4.0e-7)(175.0,nan)(180.0,1.7e-7)(180.0,3.2e-7)(180.0,nan)
(185.0,1.7e-7)(185.0,5.1e-7)(185.0,nan)(192.0,1.7e-7)(192.0,3.6e-7)(192.0,nan)
(198.0,1.7e-7)(198.0,3.3e-7)(198.0,nan)(212.0,1.7e-7)(212.0,4.4e-7)(212.0,nan)
(218.0,1.7e-7)(218.0,3.5e-7)(218.0,nan)(225.0,1.7e-7)(225.0,4.9e-7)(225.0,nan)
(232.0,1.7e-7)(232.0,3.2e-7)(232.0,nan)(240.0,1.7e-7)(240.0,3.6e-7)(240.0,nan)
(262.0,1.7e-7)(262.0,4.2e-7)(262.0,nan)(268.0,1.7e-7)(268.0,3.4e-7)(268.0,nan)
(278.0,1.7e-7)(278.0,1.9e-6)(278.0,nan)(288.0,1.7e-7)(288.0,3.9e-7)(288.0,nan)
(295.0,1.7e-7)(295.0,3.5e-7)(295.0,nan)(300.0,1.7e-7)(300.0,9.6e-7)(300.0,nan)
(310.0,1.7e-7)(310.0,4.5e-7)(310.0,nan)(316.0,1.7e-7)(316.0,3.3e-7)(316.0,nan)
(325.0,1.7e-7)(325.0,6.5e-7)(325.0,nan)(337.0,1.7e-7)(337.0,1.67e-6)(337.0,nan)
(400.0,1.7e-7)(400.0,1.37e-6)(400.0,nan)(420.0,1.7e-7)(420.0,3.4e-7)(420.0,nan)
(450.0,1.7e-7)(450.0,1.27e-6)(450.0,nan)(462.0,1.7e-7)(462.0,3.6e-7)(462.0,nan)
(475.0,1.7e-7)(475.0,4.9e-7)(475.0,nan)(488.0,1.7e-7)(488.0,3.3e-7)(488.0,nan)
(512.0,1.7e-7)(512.0,6.0e-7)(512.0,nan)(530.0,1.7e-7)(530.0,4.4e-7)(530.0,nan)
(540.0,1.7e-7)(540.0,3.5e-7)(540.0,nan)(550.0,1.7e-7)(550.0,8.2e-7)(550.0,nan)
(575.0,1.7e-7)(575.0,4.7e-7)(575.0,nan)(590.0,1.7e-7)(590.0,3.4e-7)(590.0,nan)
(600.0,1.7e-7)(600.0,9.6e-7)(600.0,nan)(615.0,1.7e-7)(615.0,3.6e-7)(615.0,nan)
(640.0,1.7e-7)(640.0,3.3e-7)(640.0,nan)(650.0,1.7e-7)(650.0,5.7e-7)(650.0,nan)
(675.0,1.7e-7)(675.0,4.2e-7)(675.0,nan)(690.0,1.7e-7)(690.0,3.5e-7)(690.0,nan)
(700.0,1.7e-7)(700.0,4.5e-7)(700.0,nan)(725.0,1.7e-7)(725.0,4.0e-7)(725.0,nan)
(740.0,1.7e-7)(740.0,3.4e-7)(740.0,nan)(760.0,1.7e-7)(760.0,3.6e-7)(760.0,nan)
(775.0,1.7e-7)(775.0,4.9e-7)(775.0,nan)(790.0,1.7e-7)(790.0,3.3e-7)(790.0,nan)
(800.0,1.7e-7)(800.0,4.5e-7)(800.0,nan)(815.0,1.7e-7)(815.0,3.5e-7)(815.0,nan)
(825.0,1.7e-7)(825.0,3.9e-7)(825.0,nan)(850.0,1.7e-7)(850.0,9.2e-7)(850.0,nan)
(865.0,1.7e-7)(865.0,3.4e-7)(865.0,nan)(880.0,1.7e-7)(880.0,3.6e-7)(880.0,nan)
(900.0,1.7e-7)(900.0,6.2e-7)(900.0,nan)(925.0,1.7e-7)(925.0,8.5e-7)(925.0,nan)
(940.0,1.7e-7)(940.0,3.3e-7)(940.0,nan)(960.0,1.7e-7)(960.0,4.5e-7)(960.0,nan)
(975.0,1.7e-7)(975.0,3.5e-7)(975.0,nan)
(10.4,1e-7)(10.4,2.5e-8)(10.4,nan)(10.9,1e-7)(10.9,1.55e-8)(10.9,nan)
(11.6,1e-7)(11.6,3.2e-8)(11.6,nan)(12.1,1e-7)(12.1,1.13e-8)(12.1,nan)
(12.7,1e-7)(12.7,2.3e-8)(12.7,nan)(13.6,1e-7)(13.6,1.27e-8)(13.6,nan)
(14.3,1e-7)(14.3,2.8e-8)(14.3,nan)(15.3,1e-7)(15.3,9.6e-9)(15.3,nan)
(16.0,1e-7)(16.0,2.1e-8)(16.0,nan)(16.8,1e-7)(16.8,1.22e-8)(16.8,nan)
(17.6,1e-7)(17.6,1.8e-8)(17.6,nan)(18.4,1e-7)(18.4,8.5e-9)(18.4,nan)
(19.3,1e-7)(19.3,1.55e-8)(19.3,nan)(20.2,1e-7)(20.2,2.0e-8)(20.2,nan)
(21.1,1e-7)(21.1,1.13e-8)(21.1,nan)(22.1,1e-7)(22.1,1.7e-8)(22.1,nan)
(23.2,1e-7)(23.2,8.2e-9)(23.2,nan)(24.3,1e-7)(24.3,1.43e-8)(24.3,nan)
(25.4,1e-7)(25.4,1.04e-8)(25.4,nan)(26.6,1e-7)(26.6,1.27e-8)(26.6,nan)
(27.9,1e-7)(27.9,7.6e-9)(27.9,nan)(29.0,1e-7)(29.0,1.37e-8)(29.0,nan)
(31.9,3e-8)(31.9,8.5e-9)(31.9,nan)(33.0,3e-8)(33.0,1.1e-8)(33.0,nan)
(34.2,3e-8)(34.2,6.5e-9)(34.2,nan)(36.8,3e-8)(36.8,1.04e-8)(36.8,nan)
(38.0,3e-8)(38.0,9.0e-9)(38.0,nan)(39.4,3e-8)(39.4,5.8e-9)(39.4,nan)
(40.5,3e-8)(40.5,1.2e-8)(40.5,nan)(42.0,3e-8)(42.0,8.2e-9)(42.0,nan)
(44.2,3e-8)(44.2,5.1e-9)(44.2,nan)(45.5,3e-8)(45.5,7.5e-9)(45.5,nan)
(47.3,3e-8)(47.3,9.2e-9)(47.3,nan)(49.5,3e-8)(49.5,1.1e-8)(49.5,nan)
(51.8,3e-8)(51.8,6.5e-9)(51.8,nan)(53.5,3e-8)(53.5,8.0e-9)(53.5,nan)
(55.0,3e-8)(55.0,7.9e-9)(55.0,nan)(57.0,3e-8)(57.0,1.2e-8)(57.0,nan)
(58.2,3e-8)(58.2,4.7e-9)(58.2,nan)(60.5,3e-8)(60.5,7.0e-9)(60.5,nan)
(62.3,3e-8)(62.3,7.3e-9)(62.3,nan)(64.0,3e-8)(64.0,1.0e-8)(64.0,nan)
(65.3,3e-8)(65.3,5.5e-9)(65.3,nan)(68.4,3e-8)(68.4,8.5e-9)(68.4,nan)
(70.5,3e-8)(70.5,6.5e-9)(70.5,nan)(72.9,3e-8)(72.9,4.4e-9)(72.9,nan)
(74.5,3e-8)(74.5,1.0e-8)(74.5,nan)(76.7,3e-8)(76.7,7.0e-9)(76.7,nan)
(78.5,3e-8)(78.5,7.5e-9)(78.5,nan)(80.6,3e-8)(80.6,5.1e-9)(80.6,nan)
(82.0,3e-8)(82.0,1.1e-8)(82.0,nan)(84.3,3e-8)(84.3,8.2e-9)(84.3,nan)
(86.0,3e-8)(86.0,6.8e-9)(86.0,nan)(88.2,3e-8)(88.2,4.0e-9)(88.2,nan)
(90.5,3e-8)(90.5,9.5e-9)(90.5,nan)(92.4,3e-8)(92.4,6.5e-9)(92.4,nan)
(94.5,3e-8)(94.5,6.6e-9)(94.5,nan)(96.5,3e-8)(96.5,4.7e-9)(96.5,nan)
(98.5,3e-8)(98.5,1.0e-8)(98.5,nan)
(103.5,3e-8)(103.5,5.8e-9)(103.5,nan)(108.0,3e-8)(108.0,4.7e-9)(108.0,nan)
(116.0,3e-8)(116.0,7.0e-9)(116.0,nan)(125.0,1e-7)(125.0,2.3e-8)(125.0,nan)
(133.0,1.5e-8)(133.0,6.5e-9)(133.0,nan)(139.5,1.5e-8)(139.5,4.4e-9)(139.5,nan)
(146.0,1.5e-8)(146.0,5.5e-9)(146.0,nan)(155.0,1.5e-8)(155.0,3.0e-9)(155.0,nan)
(160.0,1.5e-8)(160.0,3.4e-9)(160.0,nan)(166.0,1.5e-8)(166.0,4.5e-9)(166.0,nan)
(171.5,1.5e-8)(171.5,4.7e-9)(171.5,nan)(180.0,1.5e-8)(180.0,2.9e-9)(180.0,nan)
(186.0,1.5e-8)(186.0,3.6e-9)(186.0,nan)(192.0,1.5e-8)(192.0,4.2e-9)(192.0,nan)
(198.0,1.5e-8)(198.0,2.8e-9)(198.0,nan)(206.0,1.5e-8)(206.0,2.6e-9)(206.0,nan)
(211.0,1.5e-8)(211.0,4.1e-9)(211.0,nan)(216.0,1.5e-8)(216.0,3.7e-9)(216.0,nan)
(224.0,1.5e-8)(224.0,2.7e-9)(224.0,nan)(232.0,1.5e-8)(232.0,3.2e-9)(232.0,nan)
(240.0,1.5e-8)(240.0,3.8e-9)(240.0,nan)(247.0,1.5e-8)(247.0,4.5e-9)(247.0,nan)
(254.0,1.5e-8)(254.0,3.0e-9)(254.0,nan)(260.0,1.5e-8)(260.0,2.5e-9)(260.0,nan)
(266.0,1.5e-8)(266.0,4.2e-9)(266.0,nan)(272.0,1.5e-8)(272.0,3.9e-9)(272.0,nan)
(282.0,1.5e-8)(282.0,2.6e-9)(282.0,nan)(292.0,1.5e-8)(292.0,2.9e-9)(292.0,nan)
(299.0,1.5e-8)(299.0,3.5e-9)(299.0,nan)(306.0,1.5e-8)(306.0,4.4e-9)(306.0,nan)
(316.0,1.5e-8)(316.0,2.8e-9)(316.0,nan)(328.0,1.5e-8)(328.0,3.2e-9)(328.0,nan)
(335.0,1.5e-8)(335.0,4.0e-9)(335.0,nan)(342.0,1.5e-8)(342.0,4.0e-9)(342.0,nan)
(355.0,1.5e-8)(355.0,3.1e-9)(355.0,nan)(368.0,1.5e-8)(368.0,5.1e-9)(368.0,nan)
(380.0,1.5e-8)(380.0,2.7e-9)(380.0,nan)(393.0,1.5e-8)(393.0,2.3e-9)(393.0,nan)
(402.0,1.5e-8)(402.0,3.9e-9)(402.0,nan)(412.0,1.5e-8)(412.0,3.2e-9)(412.0,nan)
(422.0,1.5e-8)(422.0,2.4e-9)(422.0,nan)(432.0,1.5e-8)(432.0,1.75e-9)(432.0,nan)
(442.0,1.5e-8)(442.0,3.4e-9)(442.0,nan)(452.0,1.5e-8)(452.0,2.7e-9)(452.0,nan)
(462.0,1.5e-8)(462.0,2.2e-9)(462.0,nan)(472.0,1.5e-8)(472.0,1.55e-9)(472.0,nan)
(483.0,1.5e-8)(483.0,3.6e-9)(483.0,nan)(495.0,1.5e-8)(495.0,2.9e-9)(495.0,nan)
(506.0,1.5e-8)(506.0,2.3e-9)(506.0,nan)(518.0,1.5e-8)(518.0,1.8e-9)(518.0,nan)
(530.0,1.5e-8)(530.0,3.3e-9)(530.0,nan)(544.0,1.5e-8)(544.0,2.5e-9)(544.0,nan)
(556.0,1.5e-8)(556.0,2.1e-9)(556.0,nan)(568.0,1.5e-8)(568.0,1.43e-9)(568.0,nan)
(582.0,1.5e-8)(582.0,3.2e-9)(582.0,nan)(595.0,1.5e-8)(595.0,2.3e-9)(595.0,nan)
(607.0,1.5e-8)(607.0,2.0e-9)(607.0,nan)(620.0,1.5e-8)(620.0,1.7e-9)(620.0,nan)
(637.0,1.5e-8)(637.0,3.0e-9)(637.0,nan)(655.0,1.5e-8)(655.0,2.7e-9)(655.0,nan)
(668.0,1.5e-8)(668.0,2.2e-9)(668.0,nan)(683.0,1.5e-8)(683.0,1.32e-9)(683.0,nan)
(700.0,1.5e-8)(700.0,3.1e-9)(700.0,nan)(715.0,1.5e-8)(715.0,2.1e-9)(715.0,nan)
(732.0,1.5e-8)(732.0,1.9e-9)(732.0,nan)(748.0,1.5e-8)(748.0,1.5e-9)(748.0,nan)
(766.0,1.5e-8)(766.0,2.9e-9)(766.0,nan)(784.0,1.5e-8)(784.0,2.4e-9)(784.0,nan)
(802.0,1.5e-8)(802.0,1.8e-9)(802.0,nan)(820.0,1.5e-8)(820.0,1.22e-9)(820.0,nan)
(840.0,1.5e-8)(840.0,2.8e-9)(840.0,nan)(860.0,1.5e-8)(860.0,2.0e-9)(860.0,nan)
(882.0,1.5e-8)(882.0,1.7e-9)(882.0,nan)(905.0,1.5e-8)(905.0,1.13e-9)(905.0,nan)
(926.0,1.5e-8)(926.0,2.6e-9)(926.0,nan)(948.0,1.5e-8)(948.0,2.1e-9)(948.0,nan)
(966.0,1.5e-8)(966.0,1.9e-9)(966.0,nan)(985.0,1.5e-8)(985.0,1.55e-9)(985.0,nan)
};
% harmonic lines
\addplot[black, line width=0.6pt, forget plot] coordinates {
(50,1.7e-7)(50,3.0e-5)(50,nan)(100,1.7e-7)(100,6.4e-6)(100,nan)
(150,1.7e-7)(150,7.9e-6)(150,nan)(200,1.7e-7)(200,2.0e-6)(200,nan)
(250,1.7e-7)(250,1.13e-4)(250,nan)(375,1.7e-7)(375,6.5e-5)(375,nan)
(500,1.7e-7)(500,2.5e-5)(500,nan)(625,1.7e-7)(625,1.26e-5)(625,nan)
(750,1.7e-7)(750,6.2e-6)(750,nan)(875,1.7e-7)(875,5.2e-6)(875,nan)
(995,1.7e-7)(995,3.7e-6)(995,nan)
};
\addplot[fill=black, draw=black, line width=0.4pt, forget plot] coordinates {
(117.6,8.2e-7)(122.4,2.4e-6)(124.25,1.2e-5)(124.8,1e-4)(125,1.13e-3)
(125.2,1e-4)(125.75,1.2e-5)(127.6,2.4e-6)(132.4,8.2e-7)};
\addplot[fill=black, draw=black, line width=0.4pt, forget plot] coordinates {
(244.6,3.0e-7)(247.3,4.5e-7)(249.1,1.0e-6)(250,1.13e-4)(250.9,1.0e-6)
(252.7,4.5e-7)(255.4,3.0e-7)};
% zoom window marker
\addplot[black!85, line width=0.6pt, dash pattern=on 2.8pt off 1.4pt, forget plot]
  coordinates {(104,1.22e-3)(146,1.22e-3)(146,1.5e-9)(104,1.5e-9)(104,1.22e-3)};
\coordinate (rtl) at (axis cs:104,1.22e-3);
\coordinate (rbl) at (axis cs:104,1.5e-9);

\addlegendimage{royal!55, line width=1pt}
\addlegendentry{Background}
\addlegendimage{black!90, line width=1pt}
\addlegendentry{125 Hz excitation}
\end{axis}
\draw[gray!40, line width=0.9pt] (main.south west) rectangle (main.north east);

\begin{axis}[
    name=ins, at={(8pt,84.5pt)}, anchor=south west,
    scale only axis, width=110.5pt, height=105.5pt,
    ymode=log, xmin=104, xmax=146, ymin=3.2e-9, ymax=1.82e-3,
    xtick=\empty, ytick={1e-8,1e-7,1e-6,1e-5,1e-4,1e-3}, yticklabels=\empty,
    yminorticks=false, major tick length=0pt,
    ymajorgrids, major grid style={gray!22, line width=0.5pt},
    axis line style={black, line width=1pt},
    axis background/.style={fill=white},
    unbounded coords=jump,
]
\addplot[draw=none, name path=zbT, forget plot] table[x=f,y=bh]{\zoomfft};
\addplot[draw=none, name path=zbB, forget plot] table[x=f,y=bl]{\zoomfft};
\addplot[fill=royal, draw=none, forget plot] fill between[of=zbT and zbB];
\addplot[royal, line width=0.4pt, opacity=0.55, forget plot] coordinates {
(104.4,2e-8)(104.4,4.2e-9)(104.4,nan)(105.4,2e-8)(105.4,6.9e-9)(105.4,nan)
(106.7,2e-8)(106.7,2.8e-9)(106.7,nan)(107.3,2e-8)(107.3,5.3e-9)(107.3,nan)
(108.4,2e-8)(108.4,2.5e-9)(108.4,nan)(109.7,2e-8)(109.7,6.1e-9)(109.7,nan)
(110.4,2e-8)(110.4,3.7e-9)(110.4,nan)(111.7,2e-8)(111.7,7.3e-9)(111.7,nan)
(112.8,2e-8)(112.8,2.8e-9)(112.8,nan)(114.3,2e-8)(114.3,5.3e-9)(114.3,nan)
(115.7,2e-8)(115.7,3.2e-9)(115.7,nan)(117.3,2e-8)(117.3,7.8e-9)(117.3,nan)
(118.7,2e-8)(118.7,4.2e-9)(118.7,nan)(120.3,2e-8)(120.3,2.5e-9)(120.3,nan)
(121.6,2e-8)(121.6,6.1e-9)(121.6,nan)(123.2,2e-8)(123.2,3.7e-9)(123.2,nan)
(124.7,2e-8)(124.7,7.8e-9)(124.7,nan)(126.0,2e-8)(126.0,3.2e-9)(126.0,nan)
(127.4,2e-8)(127.4,6.9e-9)(127.4,nan)(128.9,2e-8)(128.9,2.8e-9)(128.9,nan)
(130.3,2e-8)(130.3,5.3e-9)(130.3,nan)(131.8,2e-8)(131.8,2.5e-9)(131.8,nan)
(133.2,2e-8)(133.2,4.7e-9)(133.2,nan)(134.8,2e-8)(134.8,2.8e-9)(134.8,nan)
(136.4,2e-8)(136.4,6.1e-9)(136.4,nan)(137.9,2e-8)(137.9,2.5e-9)(137.9,nan)
(139.4,2e-8)(139.4,4.2e-9)(139.4,nan)(140.9,2e-8)(140.9,2.8e-9)(140.9,nan)
(142.4,2e-8)(142.4,5.3e-9)(142.4,nan)(143.9,2e-8)(143.9,2.5e-9)(143.9,nan)
(145.3,2e-8)(145.3,3.7e-9)(145.3,nan)
(106.3,2e-8)(106.3,8.1e-7)(106.3,nan)(110.4,2e-8)(110.4,9.2e-7)(110.4,nan)
(136.2,2e-8)(136.2,3.6e-7)(136.2,nan)(144.6,2e-8)(144.6,5.5e-7)(144.6,nan)
};
\addplot[draw=none, name path=zkT, forget plot] table[x=f,y=kh]{\zoomfft};
\addplot[draw=none, name path=zkB, forget plot] table[x=f,y=kl]{\zoomfft};
\addplot[fill=black, draw=none, forget plot] fill between[of=zkT and zkB];
\addplot[black, line width=0.4pt, opacity=0.5, forget plot] coordinates {
(104.8,1e-7)(104.8,1.55e-8)(104.8,nan)(106.2,1e-7)(106.2,1.0e-8)(106.2,nan)
(107.8,1e-7)(107.8,2.1e-8)(107.8,nan)(109.3,1e-7)(109.3,7.8e-9)(109.3,nan)
(110.8,1e-7)(110.8,1.65e-8)(110.8,nan)(112.3,1e-7)(112.3,6.1e-9)(112.3,nan)
(113.8,1e-7)(113.8,1.29e-8)(113.8,nan)(115.2,1e-7)(115.2,2.4e-8)(115.2,nan)
(116.8,1e-7)(116.8,8.8e-9)(116.8,nan)(118.2,1e-7)(118.2,1.46e-8)(118.2,nan)
(119.8,1e-7)(119.8,5.3e-9)(119.8,nan)(121.2,1e-7)(121.2,1.87e-8)(121.2,nan)
(122.7,1e-7)(122.7,1.0e-8)(122.7,nan)(124.3,1e-7)(124.3,2.7e-8)(124.3,nan)
(126.2,1e-7)(126.2,1.29e-8)(126.2,nan)(127.7,1e-7)(127.7,6.9e-9)(127.7,nan)
(129.2,1e-7)(129.2,1.65e-8)(129.2,nan)(130.7,1e-7)(130.7,8.8e-9)(130.7,nan)
(132.2,1e-7)(132.2,2.1e-8)(132.2,nan)(133.7,4e-8)(133.7,5.3e-9)(133.7,nan)
(135.2,4e-8)(135.2,1.13e-8)(135.2,nan)(136.1,4e-8)(136.1,8.3e-9)(136.1,nan)
(137.6,4e-8)(137.6,1.55e-8)(137.6,nan)(139.1,4e-8)(139.1,4.4e-9)(139.1,nan)
(140.6,4e-8)(140.6,1.0e-8)(140.6,nan)(142.1,4e-8)(142.1,6.1e-9)(142.1,nan)
(143.6,4e-8)(143.6,1.29e-8)(143.6,nan)(145.1,4e-8)(145.1,4.7e-9)(145.1,nan)
};
\addplot[black, line width=0.45pt, forget plot] coordinates {
(106.3,1e-7)(106.3,9.2e-7)(106.3,nan)(136.1,1e-7)(136.1,1.04e-6)(136.1,nan)
(105.2,1e-7)(105.2,4.3e-7)(105.2,nan)(108.8,1e-7)(108.8,6.3e-7)(108.8,nan)
(111.2,1e-7)(111.2,1.04e-6)(111.2,nan)(113.2,1e-7)(113.2,1.51e-6)(113.2,nan)
(116.2,1e-7)(116.2,1.04e-6)(116.2,nan)(119.2,1e-7)(119.2,1.04e-6)(119.2,nan)
(121.8,1e-7)(121.8,1.72e-6)(121.8,nan)(127.2,1e-7)(127.2,2.5e-6)(127.2,nan)
(129.8,1e-7)(129.8,1.18e-6)(129.8,nan)(131.2,1e-7)(131.2,7.1e-7)(131.2,nan)
(133.2,1e-7)(133.2,5.5e-7)(133.2,nan)(138.6,1e-7)(138.6,3.6e-7)(138.6,nan)
(141.3,1e-7)(141.3,3.15e-7)(141.3,nan)(143.2,1e-7)(143.2,3.36e-7)(143.2,nan)
(145.4,1e-7)(145.4,2.96e-7)(145.4,nan)
};
\addplot[fill=black, draw=black, line width=0.5pt, forget plot] coordinates {
(121.8,1.4e-6)(123.6,4.4e-6)(124.45,1e-5)(124.82,1e-4)(125,1.0e-3)
(125.18,1e-4)(125.55,1e-5)(126.4,4.4e-6)(128.2,1.4e-6)};
\end{axis}
\draw[black, line width=1.1pt] (ins.south west) rectangle (ins.north east);
\draw[black!85, line width=0.6pt, dash pattern=on 2.8pt off 1.4pt] (ins.north east) -- (rtl);
\draw[black!85, line width=0.6pt, dash pattern=on 2.8pt off 1.4pt] (ins.south east) -- (rbl);
\pgfresetboundingbox
\useasboundingbox (-50.5pt,-30pt) rectangle (403pt,199.5pt);
\end{tikzpicture}
\end{document}
